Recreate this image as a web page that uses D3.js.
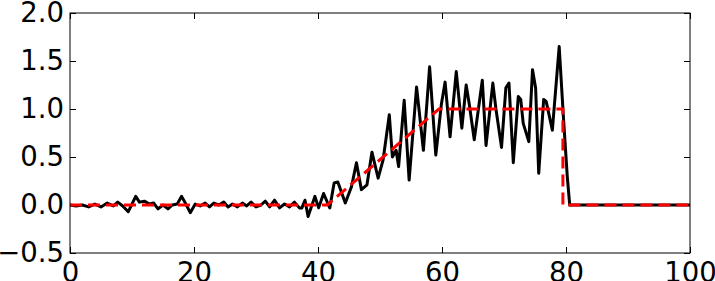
<!DOCTYPE html>
<html>
<head>
<meta charset="utf-8">
<script src="https://cdn.jsdelivr.net/npm/d3@7"></script>
<style>
  body { margin: 0; background: #fff; }
  svg { display: block; }
  .tick text { font-family: "DejaVu Sans", sans-serif; }
</style>
</head>
<body>
<div id="chart"></div>
<script>
const W = 715, H = 281;
const margin = {top: 13, right: 25, bottom: 28, left: 70};
const plotW = W - margin.left - margin.right;
const plotH = H - margin.top - margin.bottom;

const measX = [0, 1, 2, 3, 4, 5, 6, 7, 7.7, 8.5, 9.4, 10.6, 11.2, 12, 12.8, 13.5, 14.2, 15, 15.8, 16.5,
  17.3, 18, 18.6, 19.4, 20.2, 21, 21.8, 22.5, 23.2, 24, 24.8, 25.5, 26.2, 27, 27.8, 28.5, 29.2, 30,
  30.8, 31.5, 32.2, 33, 33.8, 34.6, 35.4, 36.2, 37, 37.4, 37.9, 38.4, 39.5, 40.1, 40.9, 41.9, 42.6,
  43.2, 44.4, 45.4, 46.2, 47, 47.9, 48.7, 49.7, 50.5, 51.5, 52, 52.6, 53, 53.9, 54.7, 55.9, 57, 58,
  59, 59.9, 60.5, 61.3, 62.3, 63.2, 63.9, 64.4, 65.2, 66.5, 67.1, 68.2, 68.7, 69.6, 70.3, 70.8, 71.5,
  72.3, 72.7, 73.1, 74.0, 74.6, 75.1, 75.6, 76.4, 76.8, 77.8, 78.9, 79.6, 80.2, 80.6, 100];
const measY = [0, -0.01, 0.0, -0.02, 0.01, -0.02, 0.02, -0.01, 0.03, -0.01, -0.07, 0.09, 0.03, 0.04, 0.01, 0.02, -0.04, 0.0, -0.04, 0.0,
  0.01, 0.09, 0.02, -0.08, 0.01, -0.01, 0.02, -0.02, 0.02, 0.0, 0.03, -0.02, 0.01, -0.02, 0.02, -0.01, 0.03, -0.02,
  0.0, 0.04, -0.02, 0.05, -0.03, 0.01, -0.02, 0.03, -0.03, -0.03, 0.05, -0.12, 0.09, -0.03, 0.12, -0.03, 0.23,
  0.24, 0.02, 0.19, 0.44, 0.16, 0.21, 0.55, 0.28, 0.47, 0.94, 0.5, 0.57, 0.4, 1.09, 0.26, 1.23, 0.57, 1.44,
  0.52, 1.05, 1.28, 0.71, 1.39, 0.8, 1.25, 1.05, 0.68, 1.3, 0.62, 1.27, 1.0, 0.6, 1.22, 1.27, 0.44,
  1.13, 1.1, 0.85, 0.66, 1.41, 1.22, 0.33, 1.1, 1.08, 0.78, 1.65, 0.9, 0.3, 0.0, 0.0];

// reference profile (red dashed)
const refX = [0, 41.5, 59.5, 79.5, 79.5, 100];
const refY = [0, 0, 1, 1, 0, 0];

const xTicks = [0, 20, 40, 60, 80, 100];
const yTicks = [-0.5, 0.0, 0.5, 1.0, 1.5, 2.0];

const svg = d3.select("#chart").append("svg")
  .attr("width", W).attr("height", H);
const g = svg.append("g")
  .attr("transform", "translate(" + margin.left + "," + margin.top + ")");

const x = d3.scaleLinear().domain([0, 100]).range([0, plotW]);
const y = d3.scaleLinear().domain([-0.5, 2.0]).range([plotH, 0]);

const fmtY = d => d3.format(".1f")(d).replace("-", "\u2212");

// ticks inside the frame, on all four sides
g.append("g").attr("transform", "translate(0," + plotH + ")")
  .call(d3.axisBottom(x).tickValues(xTicks).tickSizeInner(-6).tickSizeOuter(0).tickPadding(9).tickFormat(d3.format("d")));
g.append("g")
  .call(d3.axisTop(x).tickValues(xTicks).tickSizeInner(-6).tickSizeOuter(0).tickFormat(""));
g.append("g")
  .call(d3.axisLeft(y).tickValues(yTicks).tickSizeInner(-6).tickSizeOuter(0).tickPadding(6).tickFormat(fmtY));
g.append("g").attr("transform", "translate(" + plotW + ",0)")
  .call(d3.axisRight(y).tickValues(yTicks).tickSizeInner(-6).tickSizeOuter(0).tickFormat(""));

g.selectAll(".domain").remove();
g.selectAll(".tick text").style("font-size", "27.5px").attr("fill", "#000");
g.selectAll(".tick line").attr("stroke", "#000");

const line = d3.line()
  .x(d => x(d[0]))
  .y(d => y(d[1]));

g.append("path")
  .datum(d3.zip(measX, measY))
  .attr("fill", "none")
  .attr("stroke", "#000")
  .attr("stroke-width", 3)
  .attr("stroke-linejoin", "round")
  .attr("d", line);

g.append("path")
  .datum(d3.zip(refX, refY))
  .attr("fill", "none")
  .attr("stroke", "#ff0000")
  .attr("stroke-width", 3)
  .attr("stroke-dasharray", "12,6")
  .attr("d", line);

g.append("rect")
  .attr("width", plotW).attr("height", plotH)
  .attr("fill", "none").attr("stroke", "#000").attr("stroke-width", 1);
</script>
</body>
</html>
